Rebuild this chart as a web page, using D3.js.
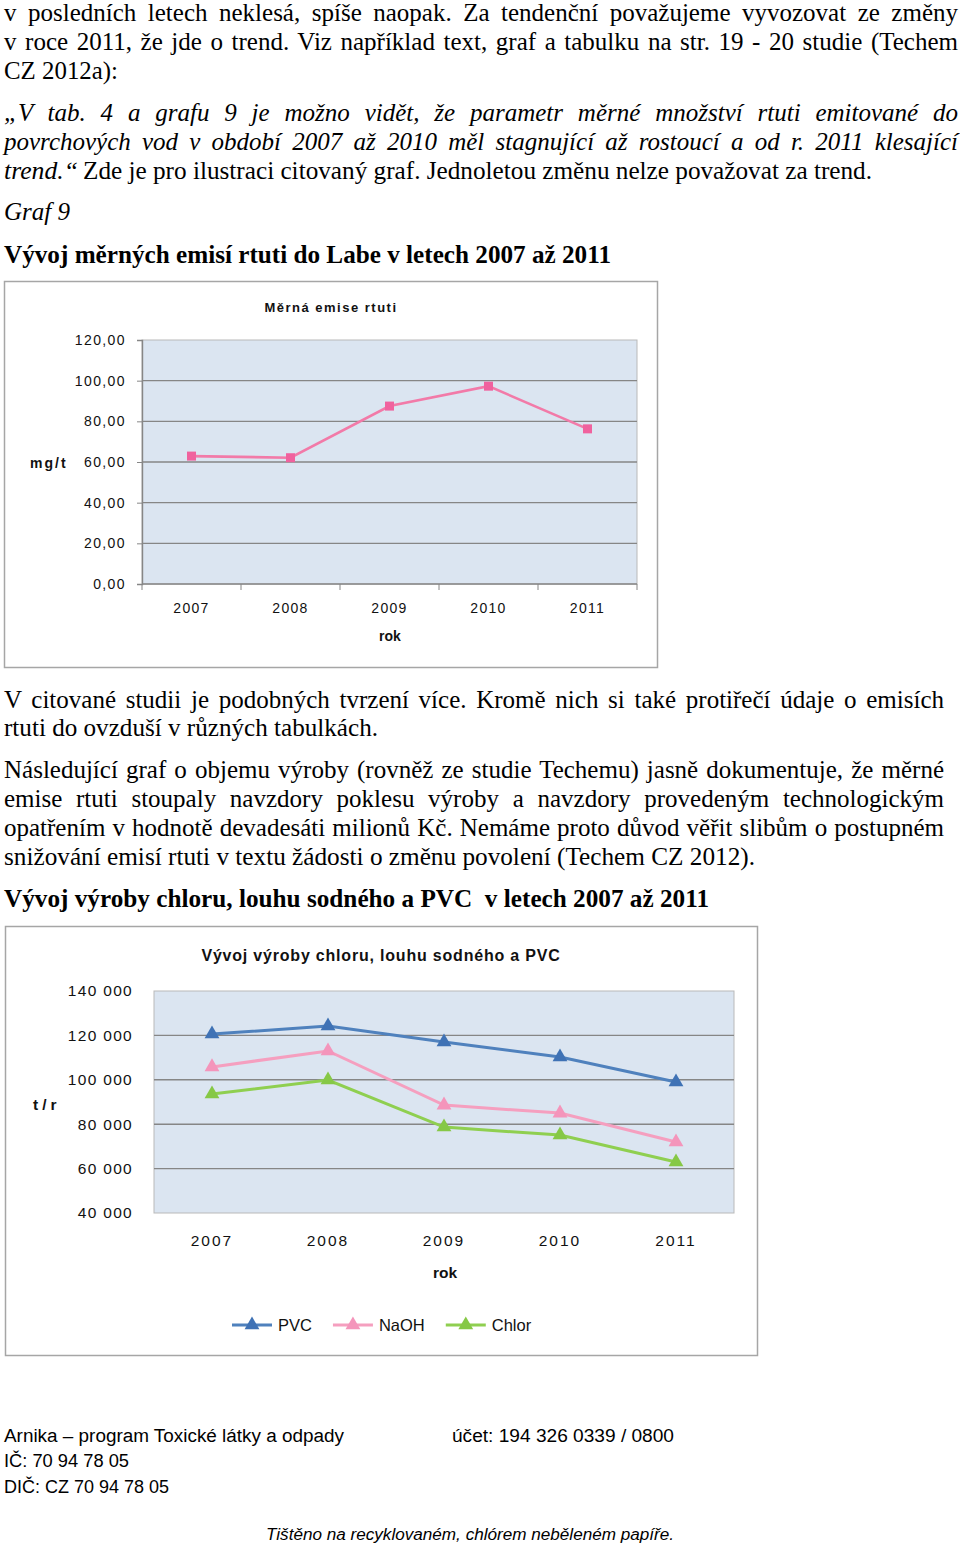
<!DOCTYPE html>
<html>
<head>
  <meta charset="utf-8">
  <title>Vývoj měrných emisí rtuti a výroby chloru</title>
  <style>
    html, body {
      margin: 0;
      padding: 0;
      background: #fff;
    }
    svg { display: block; }
    .serif { font-family: "Liberation Serif", "Times New Roman", serif; font-size: 25px; fill: #000; }
    .serif.it { font-style: italic; }
    .serif.bold { font-weight: bold; }
    .sans { font-family: "Liberation Sans", Arial, sans-serif; font-size: 18px; fill: #000; }
    .sans.it { font-style: italic; font-size: 16px; }
    .chart text { font-family: "Liberation Sans", Arial, sans-serif; fill: #111; }
    .frame { fill: #fff; stroke: #a6a6a6; stroke-width: 1.5px; }
    .plotbg { fill: #dbe5f1; stroke: #b9b9b9; stroke-width: 1px; }
    .grid { stroke: #868686; stroke-width: 1.4px; }
    .axis path, .axis line { stroke: #868686; }
  </style>
</head>
<body>
  <svg id="page" width="960" height="1545"></svg>

  <script src="https://d3js.org/d3.v7.min.js"></script>
  <script>
    // Graf 9 – měrná emise rtuti (mg/t)
    const years = ["2007", "2008", "2009", "2010", "2011"];
    const mercuryValues = [62.9, 62.1, 87.5, 97.3, 76.3];
    const mercuryTicks = [0, 20, 40, 60, 80, 100, 120];

    // výroba chloru, louhu sodného a PVC (t/r)
    const seriesNames = ["PVC", "NaOH", "Chlor"];
    const pvcValues = [120600, 124200, 117000, 110300, 99000];
    const naohValues = [105800, 113000, 88600, 85000, 72000];
    const chlorValues = [93600, 99900, 78700, 75100, 63000];
    const productionTicks = [40000, 60000, 80000, 100000, 120000, 140000];
    const seriesColors = ["#4f81bd", "#f59fbf", "#8fcf50"];
    const markerColors = ["#3f72b5", "#f495bb", "#86c846"];

    const cz = d3.formatLocale({decimal: ",", thousands: " ", grouping: [3], currency: ["", " Kč"]});
    const fmt2 = cz.format(".2f");
    const fmtInt = cz.format(",d");

    const svg = d3.select("#page");

    // ---------- text on the page ----------
    // j = justified line, otherwise natural width (fitted to the end x)
    const textLines = [
      {t: "v posledních letech neklesá, spíše naopak. Za tendenční považujeme vyvozovat ze změny", y: 12, x2: 958, j: true},
      {t: "v roce 2011, že jde o trend. Viz například text, graf a tabulku na str. 19 - 20 studie (Techem", y: 41, x2: 958, j: true},
      {t: "CZ 2012a):", y: 70, x2: 118},
      {t: "„V tab. 4 a grafu 9 je možno vidět, že parametr měrné množství rtuti emitované do", y: 112, x2: 958, j: true, c: "it"},
      {t: "povrchových vod v období 2007 až 2010 měl stagnující až rostoucí a od r. 2011 klesající", y: 141, x2: 958, j: true, c: "it"},
      {t: "trend.“", y: 170, x2: 78, c: "it"},
      {t: "Zde je pro ilustraci citovaný graf. Jednoletou změnu nelze považovat za trend.", y: 170, x1: 83, x2: 872},
      {t: "Graf 9", y: 211, x2: 70, c: "it"},
      {t: "Vývoj měrných emisí rtuti do Labe v letech 2007 až 2011", y: 254, x2: 611, c: "bold"},
      {t: "V citované studii je podobných tvrzení více. Kromě nich si také protiřečí údaje o emisích", y: 699, x2: 944, j: true},
      {t: "rtuti do ovzduší v různých tabulkách.", y: 727, x2: 378},
      {t: "Následující graf o objemu výroby (rovněž ze studie Techemu) jasně dokumentuje, že měrné", y: 769, x2: 944, j: true},
      {t: "emise rtuti stoupaly navzdory poklesu výroby a navzdory provedeným technologickým", y: 798, x2: 944, j: true},
      {t: "opatřením v hodnotě devadesáti milionů Kč. Nemáme proto důvod věřit slibům o postupném", y: 827, x2: 944, j: true},
      {t: "snižování emisí rtuti v textu žádosti o změnu povolení (Techem CZ 2012).", y: 856, x2: 755},
      {t: "Vývoj výroby chloru, louhu sodného a PVC  v letech 2007 až 2011", y: 898, x2: 709, c: "bold"}
    ];

    const footerLines = [
      {t: "Arnika – program Toxické látky a odpady", y: 1436, x1: 4, x2: 344},
      {t: "účet: 194 326 0339 / 0800", y: 1436, x1: 452, x2: 674},
      {t: "IČ: 70 94 78 05", y: 1461, x1: 4, x2: 129},
      {t: "DIČ: CZ 70 94 78 05", y: 1487, x1: 4, x2: 169},
      {t: "Tištěno na recyklovaném, chlórem neběleném papíře.", y: 1534, x1: 266, x2: 674, c: "it"}
    ];

    function placeLine(g, d, baseClass) {
      const x1 = d.x1 == null ? 4 : d.x1;
      const target = d.x2 - x1;
      const el = g.append("text")
        .attr("class", baseClass + (d.c ? " " + d.c : ""))
        .attr("x", x1)
        .attr("y", d.y)
        .attr("dy", "0.36em")
        .style("white-space", "pre")
        .text(d.t);
      const natural = el.node().getComputedTextLength();
      const spaces = (d.t.match(/ /g) || []).length;
      if (d.j && natural < target && spaces > 0) {
        el.attr("word-spacing", (target - natural) / spaces);
      } else {
        el.attr("textLength", target).attr("lengthAdjust", "spacingAndGlyphs");
      }
    }

    const textG = svg.append("g");
    textLines.forEach(d => placeLine(textG, d, "serif"));
    footerLines.forEach(d => placeLine(textG, d, "sans"));

    // ---------- chart 1: Měrná emise rtuti ----------
    (function drawMercury() {
      const g = svg.append("g").attr("class", "chart");
      g.append("rect").attr("class", "frame")
        .attr("x", 4.5).attr("y", 281.5).attr("width", 653).attr("height", 386);

      const x = d3.scaleBand().domain(years).range([142, 637]);
      const y = d3.scaleLinear().domain([0, 120]).range([584, 340]);

      g.append("rect").attr("class", "plotbg")
        .attr("x", 142).attr("y", y(120))
        .attr("width", 637 - 142).attr("height", y(0) - y(120));

      g.selectAll("line.grid")
        .data(mercuryTicks.filter(v => v > 0 && v < 120))
        .join("line").attr("class", "grid")
        .attr("x1", 142).attr("x2", 637)
        .attr("y1", d => y(d)).attr("y2", d => y(d));

      // y axis
      const yAxis = g.append("g").attr("class", "axis")
        .attr("transform", "translate(142,0)")
        .call(d3.axisLeft(y).tickValues(mercuryTicks).tickSize(5).tickPadding(11).tickFormat(fmt2));
      yAxis.select(".domain").attr("stroke", "#868686").attr("stroke-width", 1.4);
      yAxis.selectAll("text")
        .style("font-size", "14px").style("letter-spacing", "1.4px").attr("fill", "#111");

      // x axis with ticks on category boundaries
      g.append("line").attr("stroke", "#868686").attr("stroke-width", 1.4)
        .attr("x1", 142).attr("x2", 637).attr("y1", y(0)).attr("y2", y(0));
      g.selectAll("line.xtick")
        .data(d3.range(years.length + 1))
        .join("line").attr("class", "xtick").attr("stroke", "#868686")
        .attr("x1", i => 142 + i * x.step()).attr("x2", i => 142 + i * x.step())
        .attr("y1", y(0)).attr("y2", y(0) + 6);
      g.selectAll("text.year")
        .data(years)
        .join("text").attr("class", "year")
        .attr("x", d => x(d) + x.bandwidth() / 2).attr("y", 608).attr("dy", "0.36em")
        .attr("text-anchor", "middle")
        .style("font-size", "14px").style("letter-spacing", "1.3px")
        .text(d => d);

      const line = d3.line()
        .x((d, i) => x(years[i]) + x.bandwidth() / 2)
        .y(d => y(d));
      g.append("path").datum(mercuryValues)
        .attr("fill", "none").attr("stroke", "#f27aa8").attr("stroke-width", 2.6)
        .attr("d", line);
      g.selectAll("rect.mk")
        .data(mercuryValues)
        .join("rect").attr("class", "mk")
        .attr("x", (d, i) => x(years[i]) + x.bandwidth() / 2 - 4.5)
        .attr("y", d => y(d) - 4.5)
        .attr("width", 9).attr("height", 9)
        .attr("fill", "#f0629e");

      g.append("text").attr("x", 331).attr("y", 307).attr("dy", "0.36em")
        .attr("text-anchor", "middle")
        .style("font-size", "13px").style("font-weight", "bold").style("letter-spacing", "1.5px")
        .text("Měrná emise rtuti");
      g.append("text").attr("x", 30).attr("y", 463).attr("dy", "0.36em")
        .style("font-size", "14px").style("font-weight", "bold").style("letter-spacing", "2px")
        .text("mg/t");
      g.append("text").attr("x", 390).attr("y", 636).attr("dy", "0.36em")
        .attr("text-anchor", "middle")
        .style("font-size", "14px").style("font-weight", "bold")
        .text("rok");
    })();

    // ---------- chart 2: Vývoj výroby chloru, louhu sodného a PVC ----------
    (function drawProduction() {
      const g = svg.append("g").attr("class", "chart");
      g.append("rect").attr("class", "frame")
        .attr("x", 5.5).attr("y", 926.5).attr("width", 752).attr("height", 429);

      const x = d3.scaleBand().domain(years).range([154, 734]);
      const y = d3.scaleLinear().domain([40000, 140000]).range([1213, 991]);

      g.append("rect").attr("class", "plotbg")
        .attr("x", 154).attr("y", y(140000))
        .attr("width", 734 - 154).attr("height", y(40000) - y(140000));

      g.selectAll("line.grid")
        .data(productionTicks.filter(v => v > 40000 && v < 140000))
        .join("line").attr("class", "grid")
        .attr("x1", 154).attr("x2", 734)
        .attr("y1", d => y(d)).attr("y2", d => y(d));

      const yAxis = g.append("g").attr("class", "axis")
        .attr("transform", "translate(154,0)")
        .call(d3.axisLeft(y).tickValues(productionTicks).tickSize(0).tickPadding(21).tickFormat(fmtInt));
      yAxis.select(".domain").remove();
      yAxis.selectAll("text")
        .style("font-size", "15.5px").style("letter-spacing", "1.3px").attr("fill", "#111");

      g.selectAll("text.year")
        .data(years)
        .join("text").attr("class", "year")
        .attr("x", d => x(d) + x.bandwidth() / 2).attr("y", 1240).attr("dy", "0.36em")
        .attr("text-anchor", "middle")
        .style("font-size", "15.5px").style("letter-spacing", "2px")
        .text(d => d);

      const series = [pvcValues, naohValues, chlorValues];
      const line = d3.line()
        .x((d, i) => x(years[i]) + x.bandwidth() / 2)
        .y(d => y(d));
      const tri = d3.symbol().type(d3.symbolTriangle).size(95);

      // draw bottom series first so PVC sits on top
      [2, 1, 0].forEach(s => {
        g.append("path").datum(series[s])
          .attr("fill", "none").attr("stroke", seriesColors[s]).attr("stroke-width", 3)
          .attr("d", line);
        g.selectAll("path.mk" + s)
          .data(series[s])
          .join("path").attr("class", "mk" + s)
          .attr("transform", (d, i) => "translate(" + (x(years[i]) + x.bandwidth() / 2) + "," + y(d) + ")")
          .attr("d", tri)
          .attr("fill", markerColors[s]);
      });

      g.append("text").attr("x", 381).attr("y", 955).attr("dy", "0.36em")
        .attr("text-anchor", "middle")
        .style("font-size", "16px").style("font-weight", "bold").style("letter-spacing", "0.8px")
        .text("Vývoj výroby chloru, louhu sodného a PVC");
      g.append("text").attr("x", 33).attr("y", 1104).attr("dy", "0.36em")
        .style("font-size", "15.5px").style("font-weight", "bold").style("letter-spacing", "4px")
        .text("t/r");
      g.append("text").attr("x", 445).attr("y", 1272).attr("dy", "0.36em")
        .attr("text-anchor", "middle")
        .style("font-size", "15.5px").style("font-weight", "bold")
        .text("rok");

      // legend
      let lx = 232;
      seriesNames.forEach((name, s) => {
        const item = g.append("g");
        item.append("line").attr("x1", lx).attr("x2", lx + 40).attr("y1", 1325).attr("y2", 1325)
          .attr("stroke", seriesColors[s]).attr("stroke-width", 3);
        item.append("path").attr("transform", "translate(" + (lx + 20) + ",1325)")
          .attr("d", tri).attr("fill", markerColors[s]);
        const t = item.append("text").attr("x", lx + 46).attr("y", 1325).attr("dy", "0.36em")
          .style("font-size", "16.5px")
          .text(name);
        lx += 46 + t.node().getComputedTextLength() + 21;
      });
    })();
  </script>
</body>
</html>
